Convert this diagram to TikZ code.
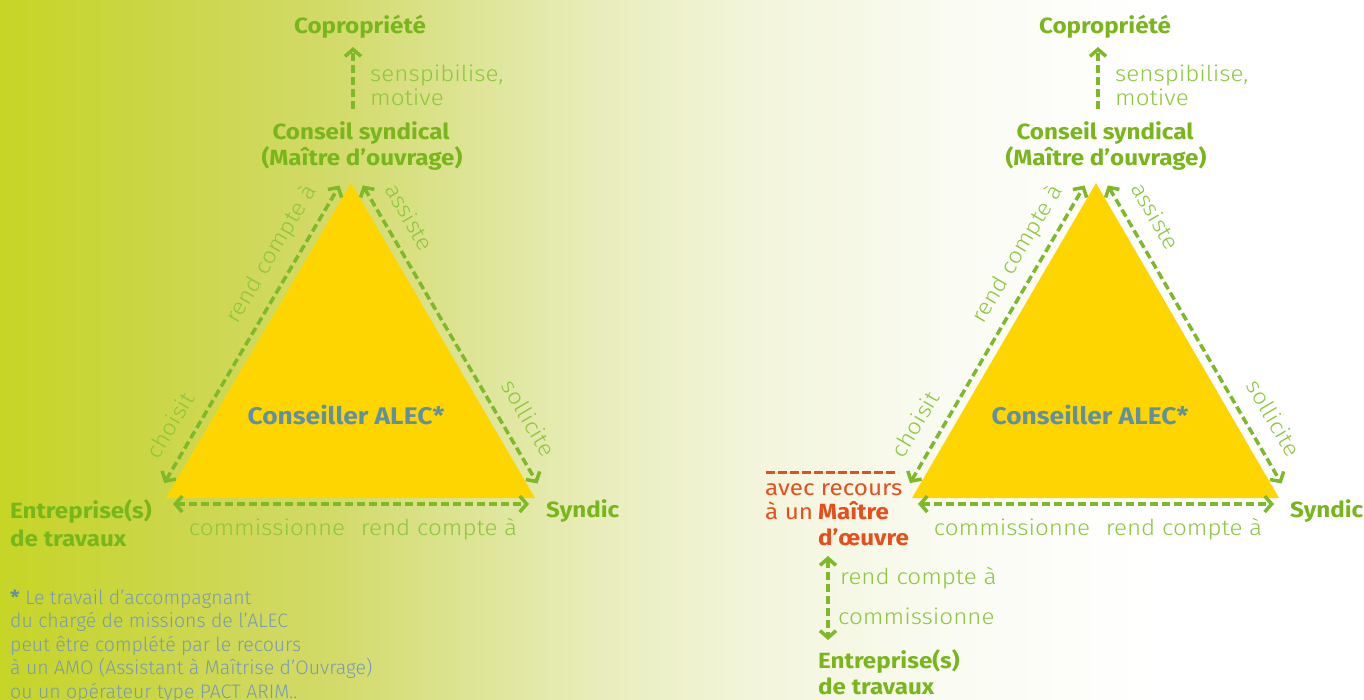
\documentclass[tikz,border=0pt]{standalone}
\usepackage{fontspec}
\usetikzlibrary{arrows.meta,calc}
\IfFontExistsTF{Fira Sans Light}{\newfontfamily\lightf{Fira Sans Light}[FakeStretch=1.1]}{\newfontfamily\lightf{Fira Sans}[FakeStretch=1.1]}
\newfontfamily\mainf{Fira Sans}[FakeStretch=1.1]
\IfFontExistsTF{Fira Sans Light}{\newfontfamily\notef{Fira Sans Light}}{\newfontfamily\notef{Fira Sans}}
\definecolor{tri}{RGB}{255,213,0}
\definecolor{garrow}{RGB}{125,185,40}
\definecolor{gtext}{RGB}{141,198,63}
\definecolor{gbold}{RGB}{120,182,28}
\definecolor{alecc}{RGB}{98,144,163}
\definecolor{notec}{RGB}{120,155,178}
\definecolor{orng}{RGB}{232,78,27}
\definecolor{bg0}{RGB}{198,213,38}
\definecolor{bg1}{RGB}{203,214,70}
\definecolor{bg2}{RGB}{210,218,105}
\definecolor{bg3}{RGB}{222,229,152}
\definecolor{bg4}{RGB}{233,237,188}
\definecolor{bg5}{RGB}{242,245,218}
\definecolor{bg6}{RGB}{250,251,242}
\definecolor{bg7}{RGB}{255,255,255}
\begin{document}
\begin{tikzpicture}[x=1pt,y=-1pt,
  lbl/.style={inner sep=0pt,text height=0.7em,text depth=0.2em,yshift=-5pt,font=\lightf\fontsize{22}{26}\selectfont,text=gtext},
  rlbl/.style={inner sep=0pt,text height=0.7em,text depth=0.2em,font=\lightf\fontsize{22}{26}\selectfont,text=gtext},
  head/.style={inner sep=0pt,text height=0.7em,text depth=0.2em,yshift=-5pt,font=\mainf\bfseries\fontsize{22}{26}\selectfont,text=gbold},
  alecs/.style={head,text=alecc,font=\mainf\bfseries\fontsize{24}{28}\selectfont},
  orreg/.style={inner sep=0pt,text height=0.7em,text depth=0.2em,yshift=-5pt,font=\mainf\fontsize{22}{26}\selectfont,text=orng},
  orbold/.style={head,text=orng},
  notes/.style={inner sep=0pt,text height=0.7em,text depth=0.2em,yshift=-4pt,font=\notef\fontsize{19.5}{23}\selectfont,text=notec,anchor=west},
  dasharrow/.style={draw=garrow,line width=3.5pt,dash pattern=on 8pt off 4pt,>={Straight Barb[length=7pt,width=16pt]}},
  trifill/.style={fill=tri,draw=none}
]
% background
\useasboundingbox (0,0) rectangle (1364,699);
\shade[left color=bg0,right color=bg1] (0,0) rectangle (150.5,699);
\shade[left color=bg1,right color=bg2] (150,0) rectangle (330.5,699);
\shade[left color=bg2,right color=bg3] (330,0) rectangle (480.5,699);
\shade[left color=bg3,right color=bg4] (480,0) rectangle (600.5,699);
\shade[left color=bg4,right color=bg5] (600,0) rectangle (750.5,699);
\shade[left color=bg5,right color=bg6] (750,0) rectangle (950.5,699);
\shade[left color=bg6,right color=bg7] (950,0) rectangle (1150.5,699);
\fill[bg7] (1150,0) rectangle (1364,699);

% ===== left panel =====
\coordinate (A1) at (351,183);
\coordinate (B1) at (166,498);
\coordinate (C1) at (535,498);
\fill[trifill] (A1) -- (B1) -- (C1) -- cycle;
\coordinate (l1b) at (164.3,483.1);
\coordinate (l1t) at (339.5,185.5);
\coordinate (r1t) at (362.8,185.4);
\coordinate (r1b) at (537.5,483.5);
\coordinate (b1l) at (173,504);
\coordinate (b1r) at (529,504);
\draw[dasharrow,<->] (l1b) -- (l1t);
\draw[dasharrow,<->] (r1t) -- (r1b);
\draw[dasharrow,<->] (b1l) -- (b1r);

\node[head] (copro1) at (360,26) {Copropriété};
\node[head] (cs1) at (361,132) {Conseil syndical};
\node[head] (mo1) at (362,158) {(Maître d’ouvrage)};
\coordinate (u1b) at (353,109);
\coordinate (u1t) at (353,47);
\draw[dasharrow,->] (u1b) -- (u1t);
\node[lbl,anchor=west] (sens1) at (370,74) {senspibilise,};
\node[lbl,anchor=west] (mot1) at (370,98) {motive};
\node[alecs] (alec1) at (346,417) {Conseiller ALEC*};
\node[head,anchor=west] (ent1a) at (10,511) {Entreprise(s)};
\node[head,anchor=west] (ent1b) at (10,539) {de travaux};
\node[head,anchor=west] (syn1) at (546,510) {Syndic};
\node[lbl] (comm1) at (267,528) {commissionne};
\node[lbl] (rc1) at (439,528) {rend compte à};
\node[rlbl,rotate=59.6] (rcl1) at (275,256) {rend compte à};
\node[rlbl,rotate=59.6] (cho1) at (175,428) {choisit};
\node[rlbl,rotate=-59.6] (ass1) at (405,220) {assiste};
\node[rlbl,rotate=-59.6] (sol1) at (524,421) {sollicite};

\node[notes] (n1) at (10,598) {{\mainf\bfseries\color{alecc}*} Le travail d’accompagnant};
\node[notes] (n2) at (10,621) {du chargé de missions de l’ALEC};
\node[notes] (n3) at (10,645) {peut être complété par le recours};
\node[notes] (n4) at (10,668) {à un AMO (Assistant à Maîtrise d’Ouvrage)};
\node[notes] (n5) at (10,692) {ou un opérateur type PACT ARIM..};

% ===== right panel =====
\coordinate (A2) at (1096,183);
\coordinate (B2) at (912,498);
\coordinate (C2) at (1279,498);
\fill[trifill] (A2) -- (B2) -- (C2) -- cycle;
\coordinate (l2b) at (910,483.1);
\coordinate (l2t) at (1084.5,185.5);
\coordinate (r2t) at (1107.8,185.4);
\coordinate (r2b) at (1281.5,483.5);
\coordinate (b2l) at (918,504);
\coordinate (b2r) at (1274,504);
\draw[dasharrow,<->] (l2b) -- (l2t);
\draw[dasharrow,<->] (r2t) -- (r2b);
\draw[dasharrow,<->] (b2l) -- (b2r);

\node[head] (copro2) at (1105,26) {Copropriété};
\node[head] (cs2) at (1105,132) {Conseil syndical};
\node[head] (mo2) at (1106,158) {(Maître d’ouvrage)};
\coordinate (u2b) at (1098,109);
\coordinate (u2t) at (1098,47);
\draw[dasharrow,->] (u2b) -- (u2t);
\node[lbl,anchor=west] (sens2) at (1115,74) {senspibilise,};
\node[lbl,anchor=west] (mot2) at (1115,98) {motive};
\node[alecs] (alec2) at (1090,417) {Conseiller ALEC*};
\node[head,anchor=west] (syn2) at (1290,510) {Syndic};
\node[lbl] (comm2) at (1012,528) {commissionne};
\node[lbl] (rc2) at (1184,528) {rend compte à};
\node[rlbl,rotate=59.6] (rcl2) at (1021,256) {rend compte à};
\node[rlbl,rotate=59.6] (cho2) at (920,427) {choisit};
\node[rlbl,rotate=-59.6] (ass2) at (1151,219) {assiste};
\node[rlbl,rotate=-59.6] (sol2) at (1269,421) {sollicite};

% maitre d'oeuvre branch
\coordinate (od1) at (766,472);
\coordinate (od2) at (898,472);
\draw[orng,line width=3pt,dash pattern=on 9pt off 3pt] (od1) -- (od2);
\node[orreg,anchor=west] (avec) at (765,488) {avec recours};
\node[orreg,anchor=west] (aun) at (765,512) {à un};
\node[orbold,anchor=west] (mait) at (818,512) {Maître};
\node[orbold,anchor=west] (doeu) at (818,538) {d’œuvre};
\coordinate (v2t) at (828,556);
\coordinate (v2b) at (828,640);
\draw[dasharrow,<->] (v2t) -- (v2b);
\node[lbl,anchor=west] (rc3) at (840,577) {rend compte à};
\node[lbl,anchor=west] (comm3) at (838,617) {commissionne};
\node[head,anchor=west] (ent2a) at (818,661) {Entreprise(s)};
\node[head,anchor=west] (ent2b) at (818,687) {de travaux};
\end{tikzpicture}
\end{document}
